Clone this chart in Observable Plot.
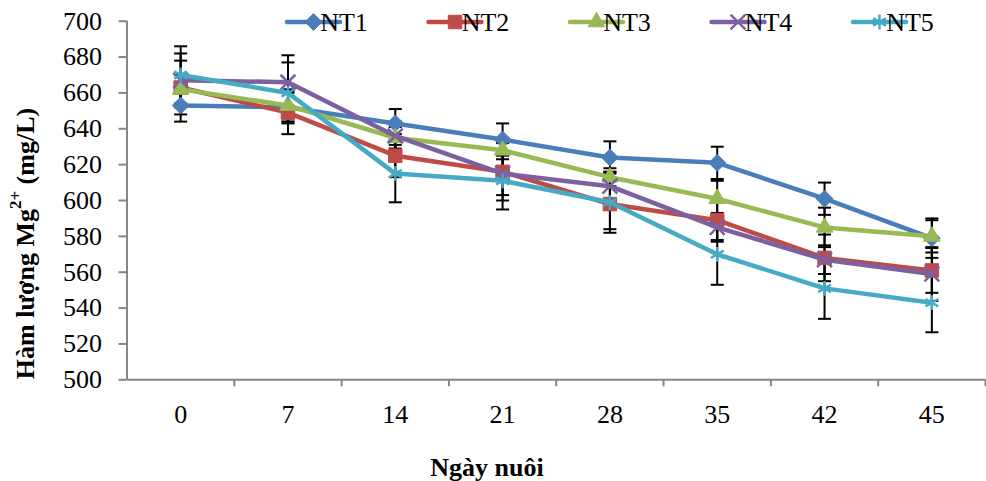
<!DOCTYPE html>
<html>
<head>
<meta charset="utf-8">
<script src="https://cdn.jsdelivr.net/npm/d3@7"></script>
<script src="https://cdn.jsdelivr.net/npm/@observablehq/plot@0.6"></script>
<style>
  html, body { margin: 0; padding: 0; background: #fff; }
  #chart { width: 986px; height: 481px; }
</style>
</head>
<body>
<div id="chart"></div>
<script>
// ---- data ----
const days = ["0", "7", "14", "21", "28", "35", "42", "45"];
const yTicks = [500, 520, 540, 560, 580, 600, 620, 640, 660, 680, 700];
const seriesNames = ["NT1", "NT2", "NT3", "NT4", "NT5"];

const NT1 = [653, 652, 643, 634, 624, 621, 601, 579];
const NT2 = [663, 649, 625, 616, 598, 589, 568, 561];
const NT3 = [662, 653, 635, 628, 613, 601, 585, 580];
const NT4 = [667, 666, 636, 615, 608, 585, 567, 559];
const NT5 = [670, 660, 615, 611, 599, 570, 551, 543];

const NT1_sd = [9, 8, 8, 9, 9, 9, 9, 11];
const NT2_sd = [15, 12, 12, 16, 14, 11, 13, 12.5];
const NT3_sd = [8, 9, 6, 5, 5, 10, 11, 9];
const NT4_sd = [15, 15, 8, 12, 8, 8, 8, 15];
const NT5_sd = [16, 17, 16, 16, 17, 17, 17, 16.5];

const values = [NT1, NT2, NT3, NT4, NT5];
const sds = [NT1_sd, NT2_sd, NT3_sd, NT4_sd, NT5_sd];

// ---- styles ----
const colors = ["#4A7EBB", "#BE4B48", "#98B954", "#7D60A0", "#46AAC5"];
const symbols = ["diamond2", "square", "triangle", "times", "asterisk"];
const symbolR = [7.6, 7.6, 6.2, 6.8, 7.0];
const filled = [true, true, true, false, false];
const font = "'Liberation Serif', 'Times New Roman', serif";
const axisGray = "#868686";

const rows = [];
seriesNames.forEach((s, k) => {
  days.forEach((d, i) => {
    rows.push({series: s, k, i, day: d, value: values[k][i], sd: sds[k][i]});
  });
});

const capSymbol = {
  draw(ctx) { ctx.moveTo(-6.5, 0); ctx.lineTo(6.5, 0); }
};

const xPos = d => d.i + 0.5;

const marks = [
  Plot.ruleY([500], {stroke: axisGray, strokeWidth: 2}),
  Plot.ruleX([0], {stroke: axisGray, strokeWidth: 2}),
  Plot.axisY({ticks: yTicks, tickSize: 8, tickPadding: 17, fontSize: 26, label: null,
    stroke: axisGray, strokeWidth: 2, fill: "black"}),
  Plot.axisX({ticks: d3.range(1, days.length + 1), tickSize: 7, tickFormat: () => "",
    label: null, stroke: axisGray, strokeWidth: 2}),
  Plot.axisX({ticks: days.map((d, i) => i + 0.5), tickSize: 0, tickPadding: 25,
    tickFormat: t => days[Math.floor(t)], fontSize: 26, label: null, fill: "black"}),
  // error bars
  Plot.ruleX(rows, {x: xPos, y1: d => d.value - d.sd, y2: d => d.value + d.sd, stroke: "black", strokeWidth: 2}),
  Plot.dot(rows, {x: xPos, y: d => d.value + d.sd, symbol: capSymbol, r: 5, fill: "none", stroke: "black", strokeWidth: 2}),
  Plot.dot(rows, {x: xPos, y: d => d.value - d.sd, symbol: capSymbol, r: 5, fill: "none", stroke: "black", strokeWidth: 2})
];

seriesNames.forEach((s, k) => {
  const data = rows.filter(d => d.series === s);
  marks.push(Plot.line(data, {x: xPos, y: "value", stroke: colors[k], strokeWidth: 4.5, strokeLinejoin: "round"}));
  marks.push(Plot.dot(data, {x: xPos, y: "value", symbol: symbols[k], r: symbolR[k],
    fill: filled[k] ? colors[k] : "none", stroke: colors[k], strokeWidth: filled[k] ? 1 : 2.5}));
});

const chart = Plot.plot({
  width: 986,
  height: 481,
  marginLeft: 126.5,
  marginRight: 1,
  marginTop: 20.7,
  marginBottom: 101.7,
  x: {domain: [0, days.length], axis: null},
  y: {domain: [500, 700], axis: null},
  style: {fontFamily: font, fontSize: "26px", color: "black", background: "white", overflow: "visible"},
  marks
});

const svg = d3.select(chart);

// y-axis title
const yt = svg.append("text")
  .attr("transform", "translate(25,243.5) rotate(-90)")
  .attr("text-anchor", "middle")
  .attr("dominant-baseline", "central")
  .attr("font-family", font)
  .attr("font-weight", "bold")
  .attr("font-size", 26)
  .attr("fill", "black");
yt.append("tspan").text("Hàm lượng Mg");
yt.append("tspan").attr("baseline-shift", "super").attr("font-size", 17).text("2+");
yt.append("tspan").text(" (mg/L)");

// x-axis title
svg.append("text")
  .attr("x", 487).attr("y", 467.6)
  .attr("text-anchor", "middle")
  .attr("dominant-baseline", "central")
  .attr("font-family", font)
  .attr("font-weight", "bold")
  .attr("font-size", 26)
  .attr("fill", "black")
  .text("Ngày nuôi");

// legend
const d3Sym = {diamond2: d3.symbolDiamond2, square: d3.symbolSquare, triangle: d3.symbolTriangle,
  times: d3.symbolTimes, asterisk: d3.symbolAsterisk};
const lg = svg.append("g");
seriesNames.forEach((s, k) => {
  const x0 = 287 + k * 141.5, y0 = 22;
  const g = lg.append("g").attr("transform", `translate(${x0},${y0})`);
  g.append("line").attr("x1", 0).attr("x2", 53).attr("y1", 0).attr("y2", 0)
    .attr("stroke", colors[k]).attr("stroke-width", 4.5).attr("stroke-linecap", "round");
  g.append("path")
    .attr("transform", "translate(26.5,0)")
    .attr("d", d3.symbol(d3Sym[symbols[k]], Math.PI * symbolR[k] * symbolR[k])())
    .attr("fill", filled[k] ? colors[k] : "none")
    .attr("stroke", colors[k])
    .attr("stroke-width", filled[k] ? 1 : 2.5);
  g.append("text").attr("x", 57).attr("y", 0)
    .attr("dominant-baseline", "central")
    .attr("font-family", font).attr("font-size", 26).attr("fill", "black")
    .text(s);
});

document.getElementById("chart").appendChild(chart);
</script>
</body>
</html>
